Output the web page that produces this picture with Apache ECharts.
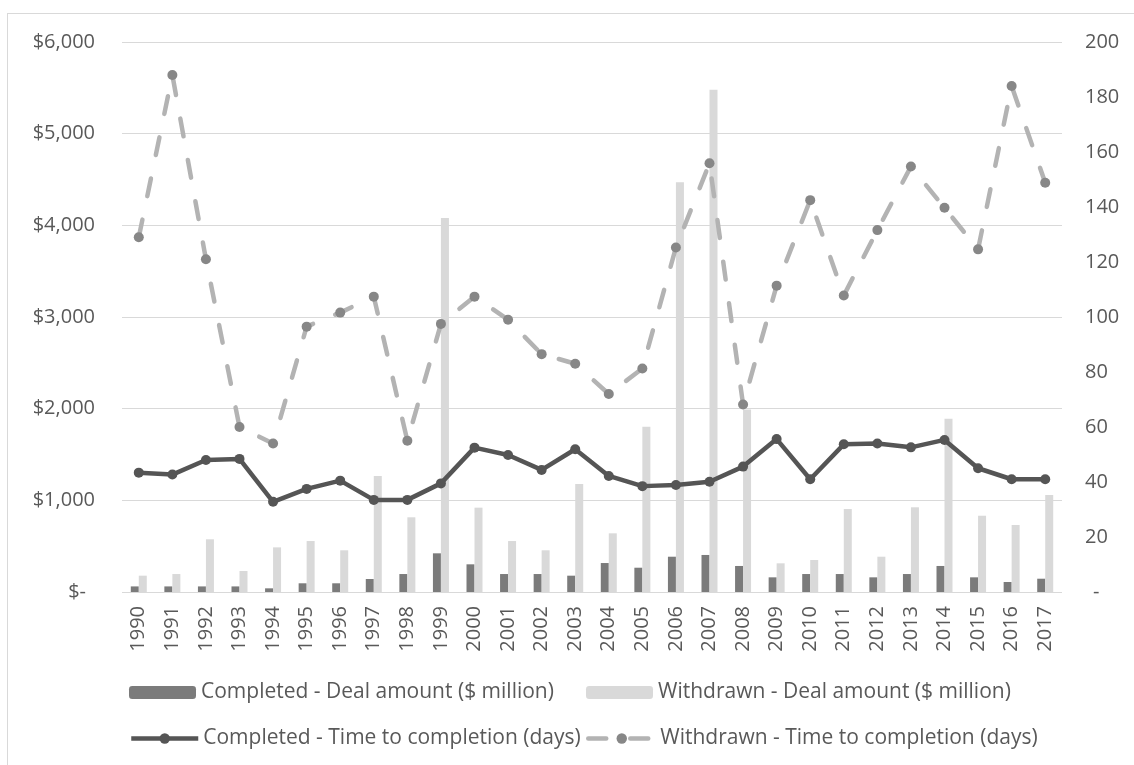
<!DOCTYPE html>
<html>
<head>
<meta charset="utf-8">
<script src="https://cdn.jsdelivr.net/npm/echarts@6/dist/echarts.min.js"></script>
<style>
  html, body { margin: 0; padding: 0; background: #ffffff; }
  #frame { position: absolute; left: 7px; top: 13px; width: 1140px; height: 760px; border: 1px solid #d9d9d9; box-sizing: border-box; }
  #chart { position: absolute; left: 0; top: 0; width: 1134px; height: 765px; }
</style>
</head>
<body>
<div id="frame"></div>
<div id="chart"></div>
<script>
// Years on the category axis
const years = ['1990','1991','1992','1993','1994','1995','1996','1997','1998','1999',
  '2000','2001','2002','2003','2004','2005','2006','2007','2008','2009',
  '2010','2011','2012','2013','2014','2015','2016','2017'];

// Deal amounts, $ million (left axis)
const completedAmount = [61, 61, 61, 61, 40, 95, 95, 142, 196, 422,
  302, 196, 196, 178, 316, 265, 385, 404, 284, 160,
  196, 196, 160, 196, 284, 160, 109, 145];
const withdrawnAmount = [178, 196, 575, 229, 487, 556, 455, 1265, 815, 4080,
  920, 556, 455, 1178, 640, 1803, 4470, 5480, 1990, 313,
  349, 905, 385, 924, 1890, 832, 731, 1058];

// Time to completion, days (right axis)
const completedDays = [43.4, 42.7, 48, 48.4, 32.8, 37.5, 40.5, 33.5, 33.5, 39.5,
  52.5, 49.8, 44.4, 51.9, 42.2, 38.5, 38.9, 40.1, 45.6, 55.6,
  41, 53.7, 54, 52.6, 55.3, 45, 41, 41];
const withdrawnDays = [129, 188, 121, 60, 54, 96.5, 101.6, 107.4, 55, 97.5,
  107.4, 99, 86.5, 83, 72, 81.3, 125.3, 155.9, 68.2, 111.4,
  142.5, 107.8, 131.6, 154.7, 139.7, 124.6, 184, 148.8];

// Axis ticks
const amountMax = 6000, amountStep = 1000;
const daysMax = 200, daysStep = 20;

const names = [
  'Completed - Deal amount ($ million)',
  'Withdrawn - Deal amount ($ million)',
  'Completed - Time to completion (days)',
  'Withdrawn - Time to completion (days)'
];

const axisFont = { fontFamily: 'Open Sans', fontSize: 20, color: '#595959' };
const legendFont = { fontFamily: 'Open Sans', fontSize: 21, color: '#595959' };

function legendAt(name, left, top) {
  return {
    data: [name], left: left, top: top, orient: 'horizontal',
    itemWidth: 67, itemHeight: 13, itemGap: 0,
    lineStyle: { width: 4.5 },
    textStyle: legendFont, selectedMode: false
  };
}

const chart = echarts.init(document.getElementById('chart'), null, { renderer: 'canvas' });
chart.setOption({
  animation: false,
  backgroundColor: 'transparent',
  grid: { left: 122, right: 72, top: 42, bottom: 173 },
  legend: [
    legendAt(names[0], 124, 677),
    legendAt(names[1], 581, 677),
    legendAt(names[2], 124, 723),
    legendAt(names[3], 581, 723)
  ],
  xAxis: {
    type: 'category', data: years,
    axisLine: { show: false }, axisTick: { show: false },
    axisLabel: Object.assign({ rotate: 90, margin: 14, interval: 0 }, axisFont)
  },
  yAxis: [
    {
      type: 'value', min: 0, max: amountMax, interval: amountStep,
      axisLine: { show: false }, axisTick: { show: false },
      splitLine: { lineStyle: { color: '#d9d9d9', width: 1 } },
      axisLabel: Object.assign({
        margin: 27,
        formatter: v => v === 0 ? '{z|$-}' : '$' + v.toLocaleString('en-US'),
        rich: { z: Object.assign({ padding: [0, 9, 0, 0] }, axisFont) }
      }, axisFont)
    },
    {
      type: 'value', min: 0, max: daysMax, interval: daysStep,
      axisLine: { show: false }, axisTick: { show: false },
      splitLine: { show: false },
      axisLabel: Object.assign({
        margin: 23,
        formatter: v => v === 0 ? '{z|-}' : String(v),
        rich: { z: Object.assign({ padding: [0, 0, 0, 8] }, axisFont) }
      }, axisFont)
    }
  ],
  series: [
    {
      name: names[0], type: 'bar', data: completedAmount, yAxisIndex: 0,
      barWidth: 8, barGap: '0%',
      itemStyle: { color: '#7b7b7b' }
    },
    {
      name: names[1], type: 'bar', data: withdrawnAmount, yAxisIndex: 0,
      barWidth: 8, barGap: '0%',
      itemStyle: { color: '#d9d9d9' }
    },
    {
      name: names[2], type: 'line', data: completedDays, yAxisIndex: 1,
      symbol: 'circle', symbolSize: 10, showAllSymbol: true,
      lineStyle: { color: '#555555', width: 4.5 },
      itemStyle: { color: '#555555' }
    },
    {
      name: names[3], type: 'line', data: withdrawnDays, yAxisIndex: 1,
      symbol: 'circle', symbolSize: 10, showAllSymbol: true,
      lineStyle: { color: '#b3b3b3', width: 4.5, type: [18, 24], cap: 'round' },
      itemStyle: { color: '#878787' }
    }
  ]
});
</script>
</body>
</html>
